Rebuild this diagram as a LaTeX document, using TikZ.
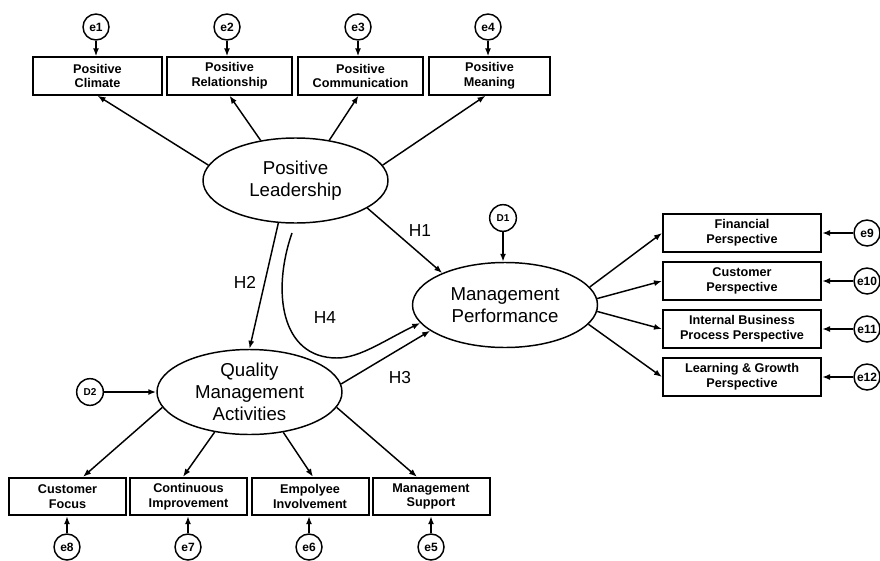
\documentclass[tikz,border=0pt]{standalone}
\usepackage{fontspec}
\setmainfont{Liberation Sans}
\usetikzlibrary{arrows.meta,calc,shapes.geometric}
\begin{document}
\begin{tikzpicture}[x=0.75pt,y=-0.75pt,
  ind/.style={draw,line width=1.5pt,minimum height=28pt,inner sep=0pt,align=center,
    font=\bfseries\fontsize{9.5}{11}\selectfont},
  lat/.style={draw,ellipse,line width=1.1pt,minimum width=138.75pt,minimum height=63.75pt,
    inner sep=0pt,align=center,font=\fontsize{14}{16.5}\selectfont},
  err/.style={draw,circle,line width=1.1pt,minimum size=19.5pt,inner sep=0pt,
    font=\bfseries\fontsize{9}{10}\selectfont},
  dist/.style={draw,circle,line width=1.1pt,minimum size=20pt,inner sep=0pt,
    font=\bfseries\fontsize{7.5}{9}\selectfont},
  lnk/.style={line width=1.1pt,-{Latex[length=6pt,width=4.5pt]}},
  elnk/.style={line width=1.5pt,-{Latex[length=6pt,width=4.5pt]}},
  hlab/.style={font=\fontsize{13}{15}\selectfont,inner sep=0pt}]
\useasboundingbox (0,0) rectangle (880,560);
% top indicators
\node[ind,minimum width=96.75pt] (B1) at (97.5,76) {Positive\\Climate};
\node[ind,minimum width=93.75pt] (B2) at (229.5,76) {Positive\\Relationship};
\node[ind,minimum width=93.75pt] (B3) at (360.5,76) {Positive\\Communication};
\node[ind,minimum width=90.75pt] (B4) at (489.5,76) {Positive\\Meaning};
\node[err] (e1) at (96,27) {e1};
\node[err] (e2) at (227,27) {e2};
\node[err] (e3) at (358,27) {e3};
\node[err] (e4) at (488,27) {e4};
\foreach \e/\b in {e1/B1,e2/B2,e3/B3,e4/B4}
  \draw[elnk] (\e) -- (\e |- \b.north);
% latent variables
\node[lat] (PL) at (295.5,180.5) {Positive\\Leadership};
\node[lat] (QMA) at (249.5,392) {Quality\\Management\\Activities};
\node[lat] (MP) at (505,305) {Management\\Performance};
\node[dist] (D1) at (503,218) {D1};
\node[dist] (D2) at (90,392) {D2};
\draw[elnk] (D1) -- (D1 |- MP.north);
\draw[elnk] (D2) -- (QMA.west);
% PL -> top indicators
\draw[lnk] (PL.170) -- (B1.south);
\draw[lnk] (PL.131) -- (B2.south);
\draw[lnk] (PL.50) -- ($(B3.south)+(-2,0)$);
\draw[lnk] (PL.10) -- ($(B4.south)+(-4,0)$);
% right indicators
\node[ind,minimum width=118.5pt] (F) at (742,233) {Financial\\Perspective};
\node[ind,minimum width=118.5pt] (C) at (742,281) {Customer\\Perspective};
\node[ind,minimum width=118.5pt] (I) at (742,329) {Internal Business\\Process Perspective};
\node[ind,minimum width=118.5pt] (L) at (742,377) {Learning \& Growth\\Perspective};
\node[err] (e9) at (867,233) {e9};
\node[err] (e10) at (867,281) {e10};
\node[err] (e11) at (867,329) {e11};
\node[err] (e12) at (867,377) {e12};
\foreach \e/\b in {e9/F,e10/C,e11/I,e12/L}
  \draw[elnk] (\e) -- (\b.east);
\draw[lnk] (MP.12) -- (F.west);
\draw[lnk] (MP.4) -- (C.west);
\draw[lnk] (MP.-4) -- (I.west);
\draw[lnk] (MP.-13) -- (L.west);
% bottom indicators
\node[ind,minimum width=87.75pt] (CF) at (67.5,496.5) {Customer\\Focus};
\node[ind,minimum width=87.75pt] (CI) at (188.5,496.5) {Continuous\\Improvement};
\node[ind,minimum width=87.75pt] (EI) at (310,496.5) {Empolyee\\Involvement};
\node[ind,minimum width=87.75pt] (MS) at (431,496.5) {Management\\Support};
\node[err] (e8) at (67,547) {e8};
\node[err] (e7) at (188,547) {e7};
\node[err] (e6) at (309,547) {e6};
\node[err] (e5) at (431,547) {e5};
\foreach \e/\b in {e8/CF,e7/CI,e6/EI,e5/MS}
  \draw[elnk] (\e) -- (\e |- \b.south);
\draw[lnk] (QMA.190) -- ($(CF.north)+(15.5,0)$);
\draw[lnk] (QMA.229) -- ($(CI.north)+(-5.5,0)$);
\draw[lnk] (QMA.310) -- ($(EI.north)+(3,0)$);
\draw[lnk] (QMA.350) -- ($(MS.north)+(-14,0)$);
% structural paths
\draw[lnk] (PL.339) -- (MP.153);
\draw[lnk] (PL.248) -- (QMA.north);
\draw[lnk] (QMA.5) -- (MP.199);
\coordinate (h4s) at (292,233);
\draw[lnk] (h4s) .. controls (272,290) and (280,358) .. (337,358)
  .. controls (360,358) and (385,340) .. (MP.192);
\node[hlab] (H1) at (420,231) {H1};
\node[hlab] (H2) at (245,282) {H2};
\node[hlab] (H4) at (325,318) {H4};
\node[hlab] (H3) at (400,378) {H3};
\end{tikzpicture}
\end{document}
